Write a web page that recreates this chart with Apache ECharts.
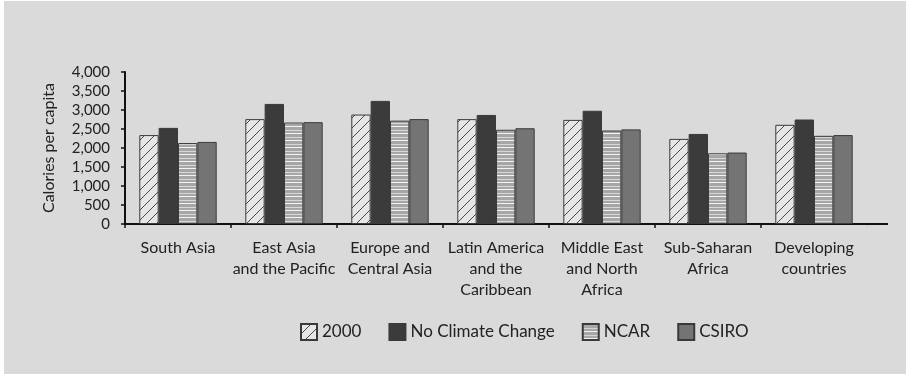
<!DOCTYPE html>
<html>
<head>
<meta charset="utf-8">
<script src="https://cdn.jsdelivr.net/npm/echarts@6/dist/echarts.min.js"></script>
<style>
html,body{margin:0;padding:0;background:#ffffff;}
#bg{position:absolute;left:4px;top:1px;width:902px;height:373px;background:#dadada;}
#chart{position:absolute;left:0;top:0;width:909px;height:377px;}
</style>
</head>
<body>
<div id="bg"></div>
<div id="chart"></div>
<script>
const categories = ["South Asia", "East Asia\nand the Pacific", "Europe and\nCentral Asia", "Latin America\nand the\nCaribbean", "Middle East\nand North\nAfrica", "Sub-Saharan\nAfrica", "Developing\ncountries"];
const y2000 = [2340, 2760, 2880, 2760, 2740, 2240, 2610];
const noClimateChange = [2530, 3160, 3240, 2870, 2980, 2370, 2750];
const ncar = [2130, 2670, 2720, 2480, 2460, 1860, 2320];
const csiro = [2160, 2680, 2760, 2520, 2490, 1880, 2340];
const yTicks = [0, 500, 1000, 1500, 2000, 2500, 3000, 3500, 4000];

function hatchPattern() {
  const s = 10;
  const c = document.createElement('canvas');
  c.width = s; c.height = s;
  const g = c.getContext('2d');
  g.fillStyle = '#e6e6e6';
  g.fillRect(0, 0, s, s);
  g.strokeStyle = '#4a4a4a';
  g.lineWidth = 1;
  g.beginPath();
  g.moveTo(-1, s + 1); g.lineTo(s + 1, -1);
  g.moveTo(-2, 2); g.lineTo(2, -2);
  g.moveTo(s - 2, s + 2); g.lineTo(s + 2, s - 2);
  g.stroke();
  return c;
}
function stripePattern() {
  const c = document.createElement('canvas');
  c.width = 4; c.height = 7;
  const g = c.getContext('2d');
  g.fillStyle = '#a6a6a6';
  g.fillRect(0, 0, 4, 7);
  g.fillStyle = '#f2f2f2';
  g.fillRect(0, 0, 4, 1);
  g.fillStyle = '#d8d8d8';
  g.fillRect(0, 4, 4, 1);
  return c;
}

const FONT = 'Lato';
const chart = echarts.init(document.getElementById('chart'), null, {renderer: 'canvas'});
const gridLeft = 125, gridRight = 42, gridTop = 72, gridBottom = 153;
const border = {borderColor: '#3a3a3a', borderWidth: 1};
const axisY = 377 - gridBottom;
const axisEnd = 909 - gridRight;

chart.setOption({
  backgroundColor: 'transparent',
  animation: false,
  textStyle: {fontFamily: FONT, color: '#222'},
  grid: {left: gridLeft, right: gridRight, top: gridTop, bottom: gridBottom},
  legend: {
    left: 295, top: 318,
    icon: 'rect',
    itemWidth: 16, itemHeight: 16, itemGap: 27,
    textStyle: {fontFamily: FONT, fontSize: 17, color: '#222'},
    data: ['2000', 'No Climate Change', 'NCAR', 'CSIRO']
  },
  xAxis: {
    type: 'category',
    data: categories,
    axisLine: {lineStyle: {color: '#111', width: 2}},
    axisTick: {show: true, length: 4, lineStyle: {color: '#111', width: 1.5}},
    axisLabel: {fontFamily: FONT, fontSize: 16, color: '#222', lineHeight: 21, margin: 13, interval: 0}
  },
  yAxis: {
    type: 'value',
    min: 0, max: 4000, interval: 500,
    name: 'Calories per capita',
    nameLocation: 'middle',
    nameGap: 68,
    nameTextStyle: {fontFamily: FONT, fontSize: 16, color: '#222'},
    axisLine: {show: true, lineStyle: {color: '#111', width: 2}},
    axisTick: {show: true, length: 4, lineStyle: {color: '#111', width: 1.5}},
    splitLine: {show: false},
    axisLabel: {
      fontFamily: FONT, fontSize: 15, color: '#222', margin: 15,
      formatter: v => yTicks.indexOf(v) >= 0 ? v.toLocaleString('en-US') : ''
    }
  },
  series: [
    {name: '2000', type: 'bar', data: y2000, barGap: '0%', barCategoryGap: '27%',
     itemStyle: Object.assign({color: {image: hatchPattern(), repeat: 'repeat'}}, border)},
    {name: 'No Climate Change', type: 'bar', data: noClimateChange,
     itemStyle: Object.assign({color: '#3b3b3b'}, border)},
    {name: 'NCAR', type: 'bar', data: ncar,
     itemStyle: Object.assign({color: {image: stripePattern(), repeat: 'repeat'}}, border)},
    {name: 'CSIRO', type: 'bar', data: csiro,
     itemStyle: Object.assign({color: '#747474'}, border)}
  ],
  graphic: [
    {type: 'rect', silent: true, z: 100,
     shape: {x: axisEnd - 2, y: axisY + 1.1, width: 4, height: 5},
     style: {fill: '#dadada'}},
    {type: 'line', silent: true, z: 101,
     shape: {x1: axisEnd - 3, y1: axisY, x2: 888, y2: axisY},
     style: {stroke: '#111', lineWidth: 2}}
  ]
});
</script>
</body>
</html>
